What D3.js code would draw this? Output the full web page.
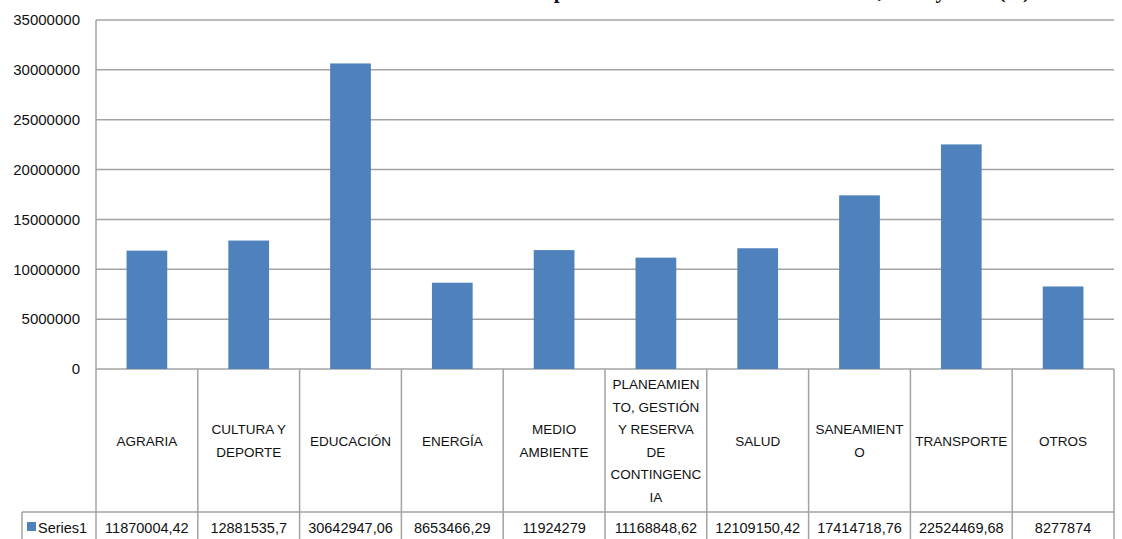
<!DOCTYPE html>
<html>
<head>
<meta charset="utf-8">
<title>Inversión por función</title>
<style>
  body { margin: 0; background: #fff; }
  svg text { font-family: "Liberation Sans", Arial, sans-serif; fill: #111; }
  .title { font-family: "Liberation Serif", "Times New Roman", serif; font-weight: bold; }
</style>
</head>
<body>
<svg id="chart" width="1122" height="539"></svg>
<script src="https://cdn.jsdelivr.net/npm/d3@7/dist/d3.min.js"></script>
<script>
// data
var categories = ["AGRARIA", "CULTURA Y DEPORTE", "EDUCACIÓN", "ENERGÍA", "MEDIO AMBIENTE",
  "PLANEAMIENTO, GESTIÓN Y RESERVA DE CONTINGENCIA", "SALUD", "SANEAMIENTO", "TRANSPORTE", "OTROS"];
// label lines as wrapped in the table
var categoryLines = [
  ["AGRARIA"],
  ["CULTURA Y", "DEPORTE"],
  ["EDUCACIÓN"],
  ["ENERGÍA"],
  ["MEDIO", "AMBIENTE"],
  ["PLANEAMIEN", "TO, GESTIÓN", "Y RESERVA", "DE", "CONTINGENC", "IA"],
  ["SALUD"],
  ["SANEAMIENT", "O"],
  ["TRANSPORTE"],
  ["OTROS"]
];
var values = [11870004.42, 12881535.7, 30642947.06, 8653466.29, 11924279,
  11168848.62, 12109150.42, 17414718.76, 22524469.68, 8277874];
var valueLabels = ["11870004,42", "12881535,7", "30642947,06", "8653466,29", "11924279",
  "11168848,62", "12109150,42", "17414718,76", "22524469,68", "8277874"];
var yTicks = [0, 5000000, 10000000, 15000000, 20000000, 25000000, 30000000, 35000000];
var seriesName = "Series1";
var titleText = "Inversión total por función en los distritos del norte, 2013 y 2015 (S/)";

(function () {
  var svg = d3.select("#chart");
  var plotLeft = 96, plotRight = 1114, plotTop = 20, axisY = 369, rowY = 512, tableBottom = 545;
  var barColor = "#4F81BD", gridColor = "#a3a3a3";

  var x = d3.scaleBand().domain(categories).range([plotLeft, plotRight])
    .paddingInner(0.6).paddingOuter(0.3);
  var y = d3.scaleLinear().domain([0, 35000000]).range([axisY, plotTop]);

  // title (mostly above the visible area)
  svg.append("text").attr("class", "title")
    .attr("x", 1030).attr("y", -2)
    .attr("text-anchor", "end")
    .style("font-size", "21px")
    .text(titleText);

  // gridlines
  svg.append("g").selectAll("line")
    .data(yTicks)
    .enter().append("line")
    .attr("x1", plotLeft).attr("x2", plotRight)
    .attr("y1", function (d) { return y(d); })
    .attr("y2", function (d) { return y(d); })
    .style("stroke", gridColor)
    .style("stroke-width", 1.5);

  // y axis labels
  var yAxis = d3.axisLeft(y).tickValues(yTicks).tickSize(0).tickPadding(0)
    .tickFormat(d3.format("d"));
  var gy = svg.append("g").attr("transform", "translate(80,0)").call(yAxis);
  gy.select(".domain").remove();
  gy.selectAll("text").style("font-size", "15px").style("fill", "#111")
    .style("font-family", "\"Liberation Sans\", Arial, sans-serif");

  // bars
  svg.append("g").selectAll("rect")
    .data(values)
    .enter().append("rect")
    .attr("x", function (d, i) { return x(categories[i]); })
    .attr("width", x.bandwidth())
    .attr("y", function (d) { return y(d); })
    .attr("height", function (d) { return axisY - y(d); })
    .style("fill", barColor);

  // data table
  var table = svg.append("g");
  var step = x.step();
  var cellLeft = function (i) { return plotLeft + step * i; };

  d3.range(categories.length + 1).forEach(function (i) {
    table.append("line")
      .attr("x1", cellLeft(i)).attr("x2", cellLeft(i))
      .attr("y1", i === 0 ? plotTop : axisY).attr("y2", tableBottom)
      .style("stroke", gridColor).style("stroke-width", 1.5);
  });
  table.append("line").attr("x1", 22).attr("x2", 22).attr("y1", rowY).attr("y2", tableBottom)
    .style("stroke", gridColor).style("stroke-width", 1.5);
  table.append("line").attr("x1", 22).attr("x2", plotRight).attr("y1", rowY).attr("y2", rowY)
    .style("stroke", gridColor).style("stroke-width", 1.5);

  // category labels
  var lineH = 22.6, midY = (axisY + rowY) / 2;
  categoryLines.forEach(function (lines, i) {
    var cx = cellLeft(i) + step / 2;
    var t = table.append("text")
      .attr("text-anchor", "middle")
      .style("font-size", "13.5px");
    lines.forEach(function (ln, k) {
      t.append("tspan")
        .attr("x", cx)
        .attr("y", midY + (k - (lines.length - 1) / 2) * lineH + 5)
        .text(ln);
    });
  });

  // values row
  table.selectAll(".val")
    .data(valueLabels)
    .enter().append("text")
    .attr("class", "val")
    .attr("x", function (d, i) { return cellLeft(i) + step / 2; })
    .attr("y", 533)
    .attr("text-anchor", "middle")
    .style("font-size", "14.5px")
    .text(function (d) { return d; });

  // legend cell
  table.append("rect").attr("x", 27).attr("y", 522).attr("width", 9).attr("height", 9)
    .style("fill", barColor);
  table.append("text").attr("x", 38).attr("y", 533).style("font-size", "14.5px").text(seriesName);
})();
</script>
</body>
</html>
